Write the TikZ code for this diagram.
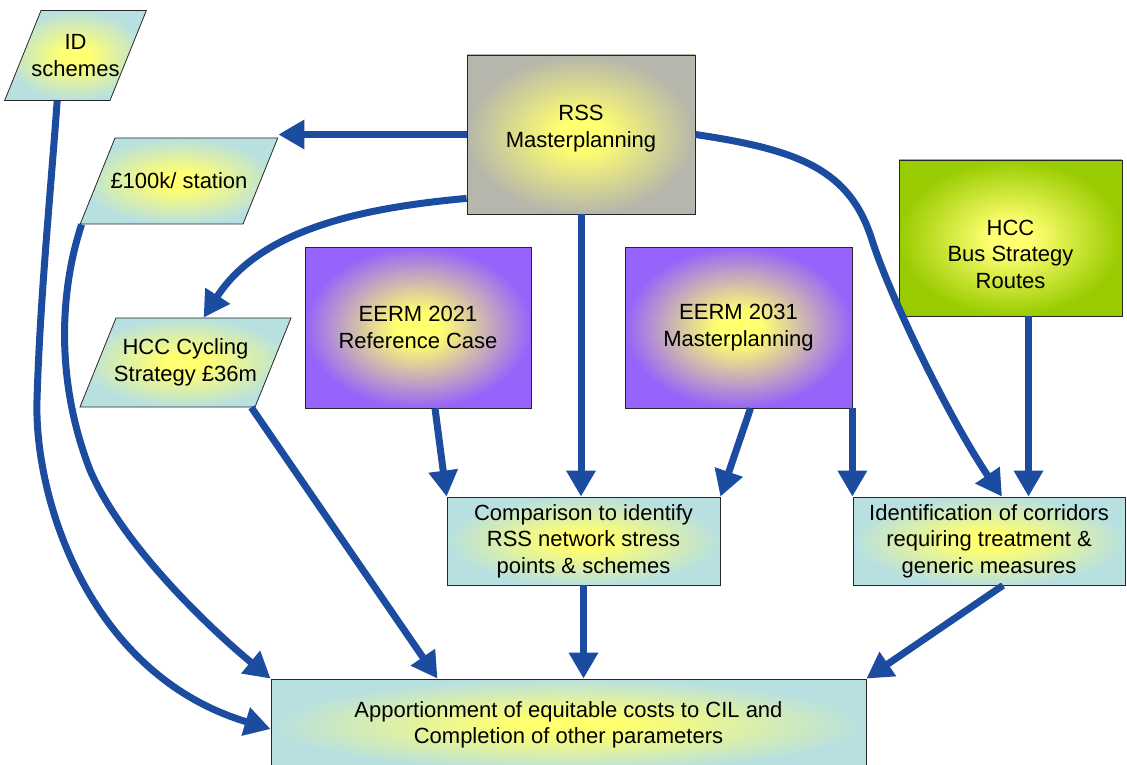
\documentclass[tikz,border=0pt]{standalone}
\usepackage{fontspec}
\setmainfont{Liberation Sans}
\usetikzlibrary{arrows.meta,shapes.geometric}
\definecolor{arrowblue}{RGB}{28,76,160}
\definecolor{glowyellow}{RGB}{255,255,112}
\definecolor{boxgray}{RGB}{182,182,172}
\definecolor{boxpurple}{RGB}{150,100,250}
\definecolor{boxgreen}{RGB}{153,204,0}
\definecolor{boxteal}{RGB}{184,224,224}
\makeatletter
\pgfdeclareradialshading[tikz@radial@inner,tikz@radial@outer]{glow}{\pgfpoint{0bp}{0bp}}{color(0bp)=(tikz@radial@inner);color(5bp)=(tikz@radial@inner);color(25bp)=(tikz@radial@outer);color(50bp)=(tikz@radial@outer)}
\makeatother
\newcommand\dfont{\fontsize{22}{26.5}\selectfont}
\tikzset{
  glowbox/.style={draw=black!85, line width=0.8pt, inner color=glowyellow, outer color=#1, shading=glow, font=\dfont, align=center, inner sep=2pt},
  para/.style={glowbox=boxteal, shape=trapezium, trapezium left angle=68, trapezium right angle=112, trapezium stretches body=true},
  boxlabel/.style={font=\dfont, align=center},
  arr/.style={draw=arrowblue, line width=7pt, -{Triangle[width=28pt,length=26pt]}}
}
\begin{document}
\begin{tikzpicture}[x=1pt,y=-1pt]
\useasboundingbox (0,0) rectangle (1127,765);
% nodes
\node[glowbox=boxgray, minimum width=228pt, minimum height=159pt,
      label={[boxlabel,yshift=6pt]center:RSS\\Masterplanning}] (rss) at (581,134.5) {};
\node[glowbox=boxpurple, minimum width=226pt, minimum height=161pt] (e21) at (418,327.5) {EERM 2021\\Reference Case};
\node[glowbox=boxpurple, minimum width=227pt, minimum height=161pt] (e31) at (738.5,327.5) {EERM 2031\\Masterplanning};
\node[glowbox=boxgreen, minimum width=223pt, minimum height=156pt,
      label={[boxlabel,yshift=-16pt]center:HCC\\Bus Strategy\\Routes}] (bus) at (1010.5,238) {};
\node[glowbox=boxteal, minimum width=273pt, minimum height=88pt] (comp) at (583.5,541) {Comparison to identify\\RSS network stress\\points \& schemes};
\node[glowbox=boxteal, minimum width=272pt, minimum height=88pt] (ident) at (989,541) {Identification of corridors\\requiring treatment \&\\generic measures};
\node[glowbox=boxteal, minimum width=595pt, minimum height=92pt] (appo) at (568.5,725) {Apportionment of equitable costs to CIL and\\Completion of other parameters};
\node[para, inner ysep=24pt, inner xsep=-9.5pt] (id) at (75.5,55.5) {ID\\schemes};
\node[para, inner ysep=35pt, inner xsep=-4.5pt] (k100) at (179,181) {£100k/ station};
\node[para, inner ysep=21pt, inner xsep=-2pt] (cyc) at (185.5,362.5) {HCC Cycling\\Strategy £36m};
% connectors
\draw[arr] (rss.west) -- (rss.west -| k100.top right corner);
\draw[arr] ([yshift=16pt]rss.south west) .. controls (360,208) and (260,230) .. (cyc.top side);
\draw[arr] (rss.south) -- (rss.south |- comp.north);
\draw[arr] (rss.east) .. controls (800,150) and (850,170) .. (872,240) .. controls (890,297) and (950,420) .. ([xshift=13pt]ident.north);
\draw[arr] ([xshift=17pt]e21.south) -- (comp.north west);
\draw[arr] ([xshift=12pt]e31.south) -- (comp.north east);
\draw[arr] (e31.south east) -- (e31.south east |- ident.north);
\draw[arr] ([xshift=18pt]bus.south) -- ([xshift=18pt]bus.south |- ident.north);
\draw[arr] ([xshift=14pt]ident.south) -- (appo.north east);
\draw[arr] (comp.south) -- (comp.south |- appo.north);
\draw[arr] ([xshift=-4pt]cyc.bottom right corner) -- ([xshift=-131pt]appo.north);
\draw[arr] ([xshift=2pt]k100.bottom left corner) .. controls (60,290) and (55,380) .. (90,470) .. controls (120,540) and (200,620) .. (appo.north west);
\draw[arr] (id.bottom side) .. controls (50,200) and (40,300) .. (37,400) .. controls (34,500) and (90,675) .. ([yshift=-4pt]appo.west);
\end{tikzpicture}
\end{document}
